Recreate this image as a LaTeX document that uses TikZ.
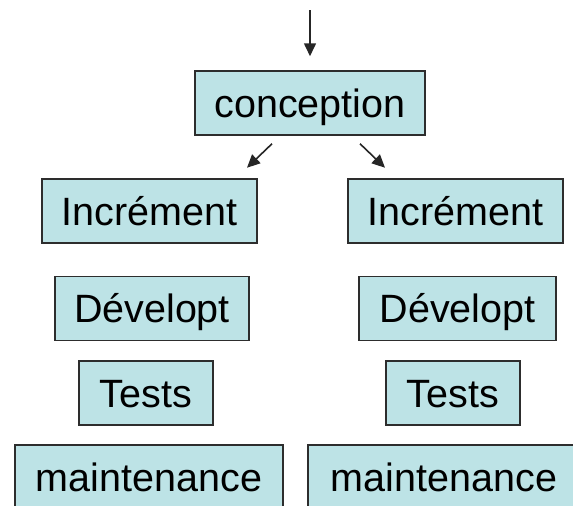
\documentclass[tikz,border=0pt]{standalone}
\usepackage{fontspec}
\setmainfont{Liberation Sans}
\usetikzlibrary{arrows.meta}
\definecolor{boxfill}{RGB}{189,227,230}
\definecolor{boxline}{RGB}{45,45,45}
\begin{document}
\begin{tikzpicture}[x=1pt,y=-1pt,
  box/.style={draw=boxline, line width=1.5pt, fill=boxfill, inner sep=0pt,
    text height=28pt, text depth=0pt, minimum height=64pt,
    font=\fontsize{39.5}{40}\selectfont},
  arr/.style={line width=1.6pt, draw=black!85, -{Triangle[length=13pt,width=12pt]}}]
\useasboundingbox (0,0) rectangle (573,506);
\clip (0,0) rectangle (573,506);
\node[box, minimum width=230pt] (conc) at (310,103) {conception};
\node[box, minimum width=215pt] (incL) at (149.5,211) {Incrément};
\node[box, minimum width=215pt] (incR) at (455.5,211) {Incrément};
\node[box, minimum width=194pt] (devL) at (152,308.5) {Dévelopt};
\node[box, minimum width=197pt] (devR) at (457.5,308.5) {Dévelopt};
\node[box, minimum width=134pt] (testL) at (146,393) {Tests};
\node[box, minimum width=134pt] (testR) at (453,393) {Tests};
\node[box, minimum width=268pt] (mainL) at (149,477) {maintenance};
\node[box, minimum width=272pt] (mainR) at (444,477) {maintenance};
\coordinate (start) at (310,10);
\draw[arr] (start) -- ([yshift=14pt]conc.north);
\coordinate (la) at ([xshift=-38pt,yshift=-8pt]conc.south);
\coordinate (lb) at ([xshift=-63pt,yshift=-32pt]conc.south);
\coordinate (ra) at ([xshift=50pt,yshift=-8pt]conc.south);
\coordinate (rb) at ([xshift=75pt,yshift=-32pt]conc.south);
\draw[arr] (la) -- (lb);
\draw[arr] (ra) -- (rb);
\end{tikzpicture}
\end{document}
